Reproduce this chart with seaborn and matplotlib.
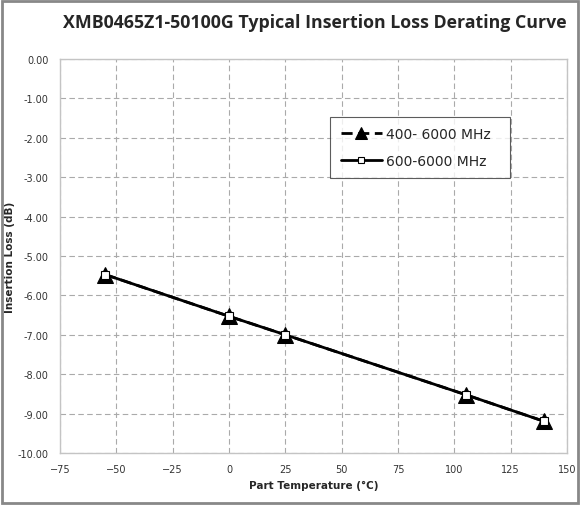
import matplotlib
matplotlib.use("Agg")
import matplotlib.pyplot as plt
import seaborn as sns
import pandas as pd
from matplotlib.ticker import FuncFormatter

temps = [-55, 0, 25, 105, 140]
loss_400 = [-5.47, -6.53, -7.0, -8.52, -9.2]
loss_600 = [-5.47, -6.53, -7.0, -8.52, -9.2]
series = ["400- 6000 MHz", "600-6000 MHz"]

sns.set_theme(style="white")
plt.rcParams['font.family'] = ['DejaVu Sans']

df = pd.DataFrame({
    "temp": temps * 2,
    "loss": loss_400 + loss_600,
    "series": [series[0]] * len(temps) + [series[1]] * len(temps),
})

fig = plt.figure(figsize=(5.8, 5.06), dpi=100)
ax = fig.add_axes([0.1034, 0.1028, 0.8742, 0.7786])

d1 = df[df.series == series[0]]
d2 = df[df.series == series[1]]
sns.lineplot(data=d1, x="temp", y="loss", ax=ax, color="black", lw=2,
             linestyle=(0, (4, 2)), marker="^", markersize=12,
             markerfacecolor="black", markeredgecolor="black", label=series[0])
sns.lineplot(data=d2, x="temp", y="loss", ax=ax, color="black", lw=2,
             marker="s", markersize=6, markerfacecolor="white",
             markeredgecolor="black", markeredgewidth=0.8, label=series[1])

ax.set_xlim(-75, 150)
ax.set_ylim(-10, 0)
ax.set_xticks(range(-75, 151, 25))
ax.set_yticks([-10, -9, -8, -7, -6, -5, -4, -3, -2, -1, 0])
ax.yaxis.set_major_formatter(FuncFormatter(lambda v, p: f"{v:.2f}"))
ax.tick_params(axis="both", labelsize=7, length=0, pad=8, colors="#333333")
ax.grid(True, color="#aaaaaa", linestyle=(0, (5, 3)), linewidth=0.8)
for s in ax.spines.values():
    s.set_color("#c4c4c4")
    s.set_linewidth(1)

ax.set_xlabel("Part Temperature (\u00b0C)", fontsize=7.5, fontweight="bold", labelpad=4)
ax.set_ylabel("Insertion Loss (dB)", fontsize=7.5, fontweight="bold", labelpad=2)
fig.text(0.542, 0.955, "XMB0465Z1-50100G Typical Insertion Loss Derating Curve",
         ha="center", va="center", fontsize=12.8, fontweight="bold", family="Open Sans")

leg = ax.legend(loc="upper left", bbox_to_anchor=(0.533, 0.853), frameon=True,
                fancybox=False, edgecolor="#333333", fontsize=10,
                handlelength=3.0, borderpad=0.75, labelspacing=0.9, handletextpad=0.3,
                markerscale=0.7, borderaxespad=0)
leg.get_frame().set_linewidth(0.8)
for t in leg.get_texts():
    t.set_text(t.get_text() + "  ")

fig.patches.append(plt.Rectangle((0.003, 0.003), 0.994, 0.994, transform=fig.transFigure,
                                 fill=False, edgecolor="#888888", linewidth=2))

fig.savefig("out.png", dpi=100)
